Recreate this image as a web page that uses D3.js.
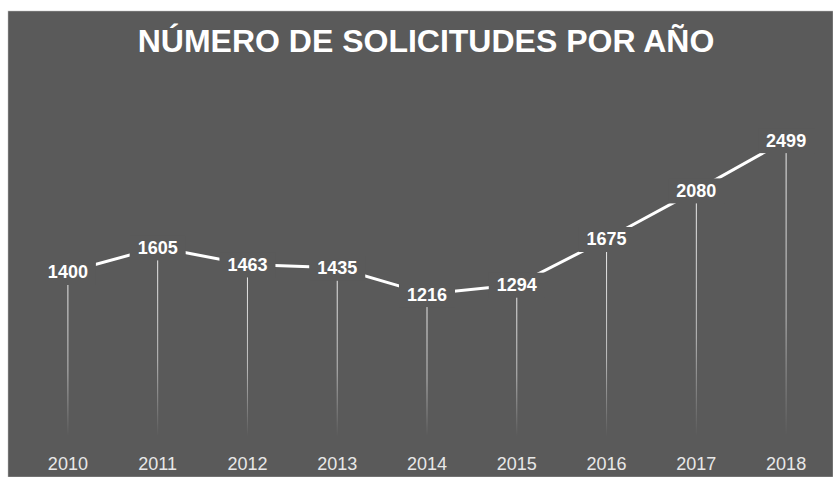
<!DOCTYPE html>
<html>
<head>
<meta charset="utf-8">
<script src="https://cdn.jsdelivr.net/npm/d3@7"></script>
<style>
  body { margin: 0; background: #fff; }
  svg { display: block; }
</style>
</head>
<body>
<div class="diagram"></div>
<script>
const years = ["2010", "2011", "2012", "2013", "2014", "2015", "2016", "2017", "2018"];
const solicitudes = [1400, 1605, 1463, 1435, 1216, 1294, 1675, 2080, 2499];
const title = "NÚMERO DE SOLICITUDES POR AÑO";

const data = years.map((y, i) => ({year: y, value: solicitudes[i]}));

const W = 833, H = 477;
const bg = "#5a5a5a";
const font = "'Liberation Sans', Arial, sans-serif";

const svg = d3.select(".diagram")
  .append("svg")
    .attr("width", W)
    .attr("height", H);

// panel
svg.append("rect")
  .attr("x", 8).attr("y", 11)
  .attr("width", W - 8).attr("height", H - 11)
  .attr("fill", bg)
  .attr("stroke", "#bfbfbf")
  .attr("stroke-width", 0.5);

// title
svg.append("text")
  .attr("x", 426)
  .attr("y", 52)
  .attr("text-anchor", "middle")
  .attr("fill", "#fff")
  .style("font-family", font)
  .style("font-weight", "bold")
  .style("font-size", "32px")
  .text(title);

// scales
const x = d3.scaleBand()
  .domain(years)
  .range([23, 831]);
const y = d3.scaleLinear()
  .domain([0, 2500])
  .range([440, 140]);
const cx = d => x(d.year) + x.bandwidth() / 2;

// gradient for drop lines
const grad = svg.append("defs").append("linearGradient")
  .attr("id", "drop")
  .attr("x1", 0).attr("y1", 0).attr("x2", 0).attr("y2", 1);
grad.append("stop").attr("offset", "0%").attr("stop-color", "#ffffff").attr("stop-opacity", 0.9);
grad.append("stop").attr("offset", "60%").attr("stop-color", "#ffffff").attr("stop-opacity", 0.6);
grad.append("stop").attr("offset", "100%").attr("stop-color", "#ffffff").attr("stop-opacity", 0);

// drop lines (rects so gradient works on vertical lines)
svg.append("g")
  .selectAll("rect")
  .data(data)
  .join("rect")
    .attr("x", d => cx(d) - 0.5)
    .attr("y", d => y(d.value))
    .attr("width", 1)
    .attr("height", d => y(0) - 4 - y(d.value))
    .attr("fill", "url(#drop)");

// line
svg.append("path")
  .datum(data)
  .attr("fill", "none")
  .attr("stroke", "#fff")
  .attr("stroke-width", 3)
  .attr("d", d3.line()
    .x(d => cx(d))
    .y(d => y(d.value)));

// value labels with background knock-out
const lab = svg.append("g")
  .selectAll("g")
  .data(data)
  .join("g")
    .attr("transform", d => `translate(${cx(d)}, ${y(d.value)})`);

lab.append("rect")
  .attr("x", -28)
  .attr("y", -12)
  .attr("width", 56)
  .attr("height", 25)
  .attr("fill", bg);

lab.append("text")
  .attr("text-anchor", "middle")
  .attr("dy", "0.36em")
  .attr("fill", "#fff")
  .style("font-family", font)
  .style("font-weight", "bold")
  .style("font-size", "18px")
  .text(d => d.value);

// x axis labels
const xAxis = svg.append("g")
  .attr("transform", "translate(0, 470)")
  .call(d3.axisBottom(x).tickSize(0).tickPadding(0));
xAxis.select(".domain").remove();
xAxis.selectAll("text")
  .attr("dy", 0)
  .attr("fill", "#e8e8e8")
  .style("font-family", font)
  .style("font-size", "18px");
</script>
</body>
</html>
